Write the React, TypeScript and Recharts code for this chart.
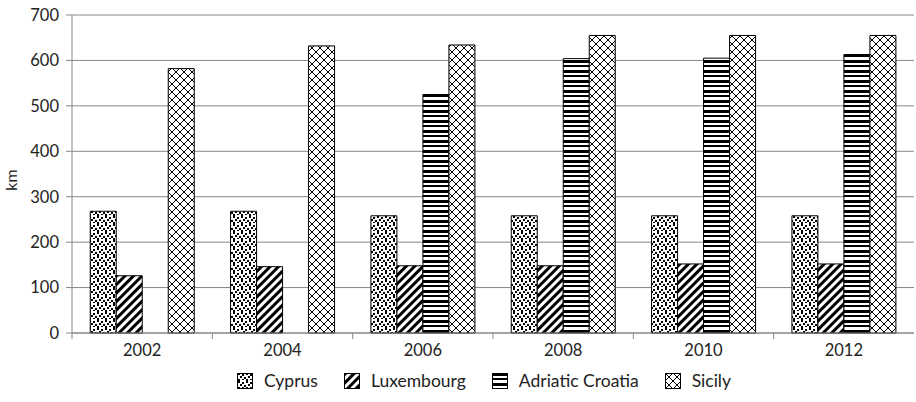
import React from "react";
import { BarChart, Bar, XAxis, YAxis, CartesianGrid, Legend } from "recharts";

const years = ["2002", "2004", "2006", "2008", "2010", "2012"];
const cyprus = [268, 268, 258, 258, 258, 258];
const luxembourg = [126, 146, 148, 148, 152, 152];
const adriaticCroatia = [null, null, 525, 604, 605, 613];
const sicily = [582, 632, 634, 655, 655, 655];
const yTicks = [0, 100, 200, 300, 400, 500, 600, 700];

const seriesNames = ["Cyprus", "Luxembourg", "Adriatic Croatia", "Sicily"];
const seriesKeys = ["cyprus", "luxembourg", "adriatic", "sicily"];
const patternIds = ["pat-dots", "pat-diag", "pat-horiz", "pat-cross"];

const data = years.map((year, i) => ({
  year,
  cyprus: cyprus[i],
  luxembourg: luxembourg[i],
  adriatic: adriaticCroatia[i],
  sicily: sicily[i],
}));

const W = 916;
const H = 402;
const Y_AXIS_W = 72;
const RIGHT = 2;
const BAND = (W - Y_AXIS_W - RIGHT) / years.length;
const GRAY = "#868686";
const FONT = "Lato, sans-serif";

function Patterns() {
  return (
    <svg width={0} height={0} style={{ position: "absolute" }}>
      <defs>
        <pattern id="pat-dots" width={8} height={8} patternUnits="userSpaceOnUse">
          <rect width={8} height={8} fill="#fff" />
          <rect x={1} y={0} width={2} height={2} fill="#000" />
          <rect x={5} y={1} width={2} height={2} fill="#000" />
          <rect x={3} y={3} width={2} height={2} fill="#000" />
          <rect x={7} y={4} width={1} height={2} fill="#000" />
          <rect x={0} y={4} width={1} height={2} fill="#000" />
          <rect x={1} y={6} width={2} height={2} fill="#000" />
          <rect x={5} y={6} width={2} height={1} fill="#000" />
        </pattern>
        <pattern
          id="pat-diag"
          width={6}
          height={6}
          patternUnits="userSpaceOnUse"
          patternTransform="rotate(45)"
        >
          <rect width={6} height={6} fill="#fff" />
          <rect x={0} y={0} width={3} height={6} fill="#000" />
        </pattern>
        <pattern id="pat-horiz" width={4} height={10} patternUnits="userSpaceOnUse">
          <rect width={4} height={10} fill="#fff" />
          <rect x={0} y={0} width={4} height={3} fill="#000" />
          <rect x={0} y={5} width={4} height={2} fill="#000" />
        </pattern>
        <pattern id="pat-cross" width={8} height={8} patternUnits="userSpaceOnUse">
          <rect width={8} height={8} fill="#fff" />
          <path d="M-1,-1 L9,9 M9,-1 L-1,9" stroke="#000" strokeWidth={1} fill="none" />
        </pattern>
      </defs>
    </svg>
  );
}

function YearTick({ x, y, payload }: any) {
  return (
    <g>
      <line x1={x - BAND / 2} x2={x - BAND / 2} y1={y} y2={y + 6} stroke={GRAY} />
      <text x={x} y={y + 23} textAnchor="middle" fontFamily={FONT} fontSize={16.5} fill="#222">
        {payload.value}
      </text>
    </g>
  );
}

function KmLabel({ viewBox }: any) {
  const x = viewBox.x + 17;
  const y = viewBox.y + viewBox.height / 2 + 6;
  return (
    <text
      x={x}
      y={y}
      transform={`rotate(-90 ${x} ${y})`}
      textAnchor="middle"
      fontFamily={FONT}
      fontSize={16}
      fill="#222"
    >
      km
    </text>
  );
}

function PatternLegend() {
  return (
    <div
      style={{
        display: "flex",
        justifyContent: "center",
        alignItems: "center",
        height: 33,
        paddingLeft: 54,
        paddingBottom: 10,
        boxSizing: "border-box",
        fontFamily: FONT,
        fontSize: 17.5,
        color: "#222",
      }}
    >
      {seriesNames.map((name, i) => (
        <div key={name} style={{ display: "flex", alignItems: "center", marginRight: i < 3 ? 26 : 0 }}>
          <svg width={16} height={16} style={{ marginRight: 11 }}>
            <rect x={0.5} y={0.5} width={15} height={15} fill={`url(#${patternIds[i]})`} stroke="#000" />
          </svg>
          <span>{name}</span>
        </div>
      ))}
    </div>
  );
}

export default function App() {
  return (
    <div style={{ width: W, height: H, background: "#fff" }}>
      <style>{`body{margin:0}`}</style>
      <Patterns />
      <BarChart
        width={W}
        height={H}
        data={data}
        margin={{ top: 15, right: RIGHT, bottom: 0, left: 0 }}
        barCategoryGap="13%"
        barGap={0}
      >
        <CartesianGrid vertical={false} stroke={GRAY} />
        <XAxis
          dataKey="year"
          height={36}
          tickLine={false}
          tickSize={0}
          tickMargin={0}
          axisLine={{ stroke: GRAY }}
          tick={<YearTick />}
          interval={0}
        />
        <YAxis
          width={Y_AXIS_W}
          domain={[0, 700]}
          ticks={yTicks}
          interval={0}
          axisLine={{ stroke: GRAY }}
          tickLine={{ stroke: GRAY }}
          tickSize={6}
          tickMargin={7}
          tick={{ fontFamily: FONT, fontSize: 16.5, fill: "#222" }}
          label={<KmLabel />}
        />
        <Legend verticalAlign="bottom" content={<PatternLegend />} />
        {seriesKeys.map((key, i) => (
          <Bar
            key={key}
            dataKey={key}
            name={seriesNames[i]}
            fill={`url(#${patternIds[i]})`}
            stroke="#000"
            strokeWidth={1}
            isAnimationActive={false}
          />
        ))}
      </BarChart>
    </div>
  );
}
